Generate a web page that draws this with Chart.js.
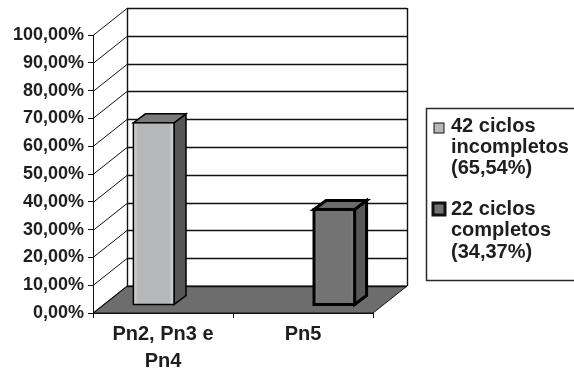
<!DOCTYPE html>
<html>
<head>
<meta charset="utf-8">
<script src="https://cdn.jsdelivr.net/npm/chart.js@4.4.0/dist/chart.umd.min.js"></script>
<style>
  html, body { margin: 0; padding: 0; background: #fff; }
  #wrap { width: 574px; height: 372px; position: relative; }
</style>
</head>
<body>
<div id="wrap"><canvas id="grafico"></canvas></div>
<script>
// Dados do gráfico
const categorias = [['Pn2, Pn3 e', 'Pn4'], 'Pn5'];
const rotulosSeries = [
  ['42 ciclos', 'incompletos', '(65,54%)'],
  ['22 ciclos', 'completos', '(34,37%)']
];
const ciclosIncompletos = [65.54, null];
const ciclosCompletos = [null, 34.37];
const escalaY = { min: 0, max: 100, passo: 10 };

// Aparência 3D
const PROF_PAREDE = { dx: 34, dy: -27 };   // profundidade do fundo
const DESLOC_BARRA = { dx: 11, dy: -8 };   // posição da face frontal das barras
const PROF_BARRA = { dx: 12, dy: -9 };     // profundidade das barras
const FONTE = "'Liberation Sans', Arial, sans-serif";
const COR_TEXTO = '#1e1e1e';

const estilosBarras = [
  { frente: '#b6b7b9', brilho: '#d6d6d6', topo: '#7a7a7a', lado: '#565656', borda: 1.5 },
  { frente: '#737373', brilho: '#7d7d7d', topo: '#6c6c6c', lado: '#585858', borda: 3 }
];

function formatarPercentual(v) {
  return v.toFixed(2).replace('.', ',') + '%';
}

// Paredes, chão e linhas de grade em perspectiva
const cenario3d = {
  id: 'cenario3d',
  beforeDraw(chart) {
    const { ctx, chartArea: a, scales } = chart;
    const y = scales.y;
    const dx = PROF_PAREDE.dx, dy = PROF_PAREDE.dy;
    ctx.save();

    // chão
    ctx.beginPath();
    ctx.moveTo(a.left, a.bottom);
    ctx.lineTo(a.right, a.bottom);
    ctx.lineTo(a.right + dx, a.bottom + dy);
    ctx.lineTo(a.left + dx, a.bottom + dy);
    ctx.closePath();
    ctx.fillStyle = '#6d6d6d';
    ctx.fill();
    ctx.strokeStyle = '#111';
    ctx.lineWidth = 1;
    ctx.stroke();

    // grade do fundo e diagonais da parede lateral
    ctx.strokeStyle = '#111';
    for (let v = escalaY.min; v <= escalaY.max; v += escalaY.passo) {
      const py = Math.round(y.getPixelForValue(v)) + 0.5;
      ctx.lineWidth = 1.4;
      ctx.beginPath();
      ctx.moveTo(a.left + dx, py + dy);
      ctx.lineTo(a.right + dx, py + dy);
      ctx.stroke();
      ctx.lineWidth = 1;
      ctx.beginPath();
      ctx.moveTo(a.left, py);
      ctx.lineTo(a.left + dx, py + dy);
      ctx.stroke();
    }

    // bordas verticais do fundo
    ctx.lineWidth = 1.4;
    ctx.beginPath();
    ctx.moveTo(a.left + dx + 0.5, a.top + dy);
    ctx.lineTo(a.left + dx + 0.5, a.bottom + dy);
    ctx.moveTo(a.right + dx + 0.5, a.top + dy);
    ctx.lineTo(a.right + dx + 0.5, a.bottom + dy);
    ctx.stroke();
    ctx.restore();
  },

  // Barras desenhadas como caixas
  beforeDatasetsDraw(chart) {
    const ctx = chart.ctx;
    ctx.save();
    chart.data.datasets.forEach((ds, i) => {
      const meta = chart.getDatasetMeta(i);
      const est = estilosBarras[i];
      meta.data.forEach((el, j) => {
        if (ds.data[j] === null) return;
        const p = el.getProps(['x', 'y', 'base', 'width'], true);
        const esq = p.x - p.width / 2 + DESLOC_BARRA.dx;
        const dir = p.x + p.width / 2 + DESLOC_BARRA.dx;
        const topo = p.y + DESLOC_BARRA.dy;
        const base = p.base + DESLOC_BARRA.dy;
        const ddx = PROF_BARRA.dx, ddy = PROF_BARRA.dy;

        ctx.lineJoin = 'miter';
        ctx.strokeStyle = '#000';
        ctx.lineWidth = est.borda;

        // lateral
        ctx.beginPath();
        ctx.moveTo(dir, topo);
        ctx.lineTo(dir + ddx, topo + ddy);
        ctx.lineTo(dir + ddx, base + ddy);
        ctx.lineTo(dir, base);
        ctx.closePath();
        ctx.fillStyle = est.lado;
        ctx.fill();
        ctx.stroke();

        // topo
        ctx.beginPath();
        ctx.moveTo(esq, topo);
        ctx.lineTo(esq + ddx, topo + ddy);
        ctx.lineTo(dir + ddx, topo + ddy);
        ctx.lineTo(dir, topo);
        ctx.closePath();
        ctx.fillStyle = est.topo;
        ctx.fill();
        ctx.stroke();

        // frente com leve brilho nas bordas
        const grad = ctx.createLinearGradient(esq, 0, dir, 0);
        grad.addColorStop(0, est.brilho);
        grad.addColorStop(0.12, est.frente);
        grad.addColorStop(0.88, est.frente);
        grad.addColorStop(1, est.brilho);
        ctx.fillStyle = grad;
        ctx.fillRect(esq, topo, dir - esq, base - topo);
        ctx.strokeRect(esq, topo, dir - esq, base - topo);
      });
    });
    ctx.restore();
    return false;
  },

  // Legenda em várias linhas
  afterDraw(chart) {
    const ctx = chart.ctx;
    ctx.save();
    ctx.strokeStyle = '#2a2a2a';
    ctx.lineWidth = 1.5;
    ctx.strokeRect(426.5, 108.5, 160, 172);

    const itens = [
      { caixa: [434, 123, 10], linhas: [125, 146, 167] },
      { caixa: [433, 203, 12], linhas: [208, 229, 251] }
    ];
    ctx.font = 'bold 20px ' + FONTE;
    ctx.textBaseline = 'middle';
    ctx.textAlign = 'left';
    itens.forEach((it, i) => {
      const est = estilosBarras[i];
      const [bx, by, bs] = it.caixa;
      ctx.fillStyle = est.frente;
      ctx.fillRect(bx, by, bs, bs);
      ctx.strokeStyle = '#111';
      ctx.lineWidth = i === 0 ? 1 : 3;
      ctx.strokeRect(bx, by, bs, bs);
      ctx.fillStyle = COR_TEXTO;
      rotulosSeries[i].forEach((txt, k) => {
        ctx.fillText(txt, 451, it.linhas[k] + 1);
      });
    });
    ctx.restore();
  }
};

const espacamento = {
  id: 'espacamento',
  beforeInit(chart) {
    chart.ctx.letterSpacing = '0.5px';
  }
};

const ctx = document.getElementById('grafico').getContext('2d');
new Chart(ctx, {
  type: 'bar',
  data: {
    labels: categorias,
    datasets: [
      {
        label: rotulosSeries[0].join(' '),
        data: ciclosIncompletos,
        backgroundColor: estilosBarras[0].frente,
        categoryPercentage: 0.58,
        barPercentage: 1.0
      },
      {
        label: rotulosSeries[1].join(' '),
        data: ciclosCompletos,
        backgroundColor: estilosBarras[1].frente,
        categoryPercentage: 0.58,
        barPercentage: 1.0
      }
    ]
  },
  options: {
    responsive: true,
    maintainAspectRatio: false,
    animation: false,
    layout: { padding: { left: 0, top: 35, right: 201, bottom: 0 } },
    plugins: {
      legend: { display: false },
      tooltip: { enabled: false }
    },
    scales: {
      x: {
        afterFit(scale) { scale.height = 59; },
        grid: { display: true, drawOnChartArea: false, drawTicks: true, tickLength: 5, color: '#111', lineWidth: 1 },
        border: { display: true, color: '#111', width: 1 },
        ticks: {
          color: COR_TEXTO,
          padding: 3,
          maxRotation: 0,
          font: { family: FONTE, size: 20, weight: 'bold', lineHeight: 1.35 }
        }
      },
      y: {
        min: escalaY.min,
        max: escalaY.max,
        afterFit(scale) { scale.width = 93; },
        grid: { display: true, drawOnChartArea: false, drawTicks: true, tickLength: 5, color: '#111', lineWidth: 1 },
        border: { display: true, color: '#111', width: 1 },
        ticks: {
          stepSize: escalaY.passo,
          color: COR_TEXTO,
          padding: 4,
          font: { family: FONTE, size: 18, weight: 'bold' },
          callback: v => formatarPercentual(v)
        }
      }
    }
  },
  plugins: [espacamento, cenario3d]
});
</script>
</body>
</html>
